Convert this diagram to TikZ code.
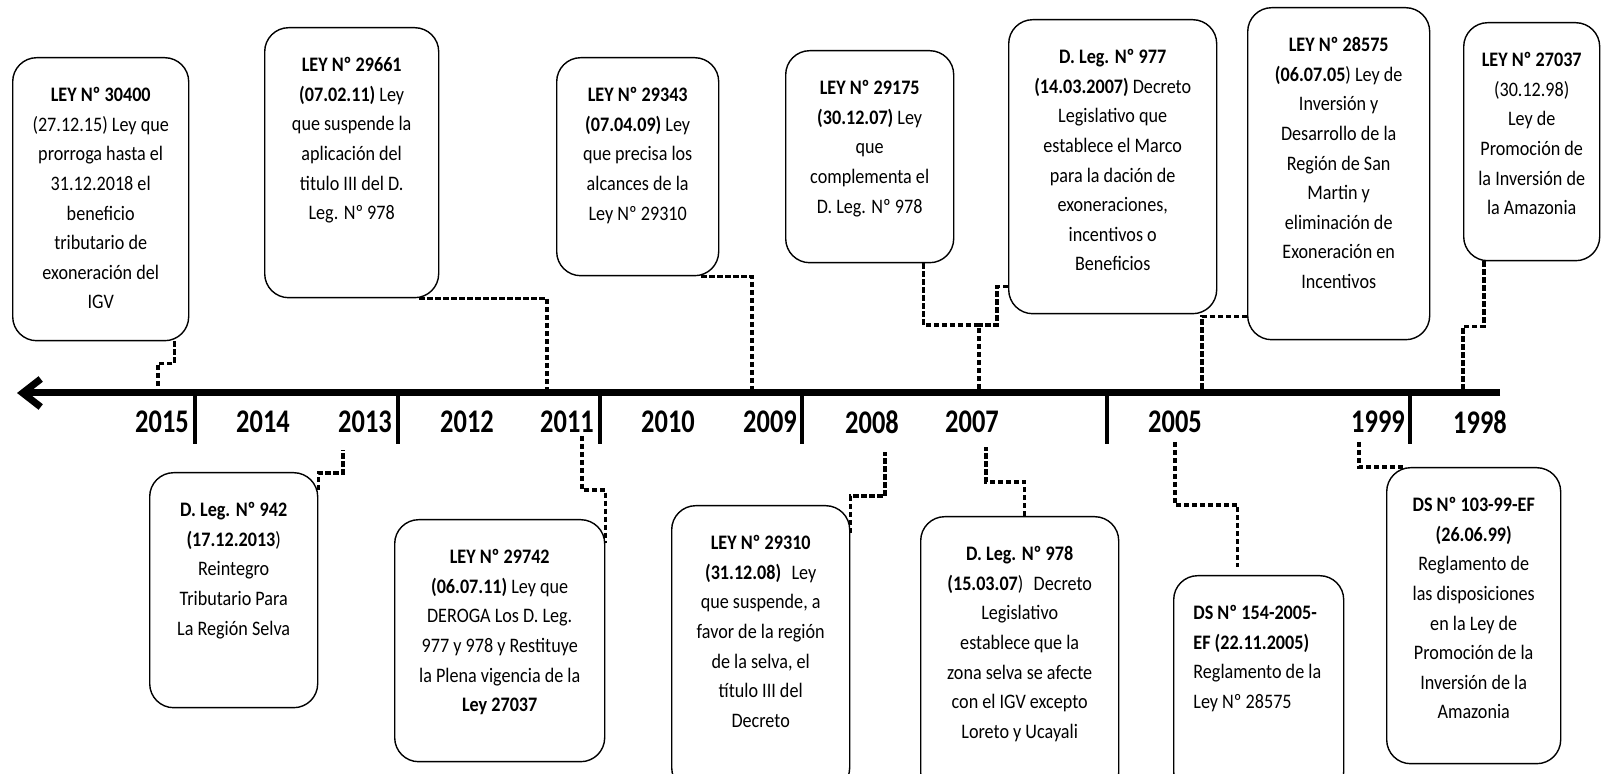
\documentclass[tikz,border=0pt]{standalone}
\usepackage{fontspec}
\setmainfont{Carlito}[FakeStretch=0.88]
\newfontfamily\yearfont{Carlito}[FakeStretch=0.8]
\usetikzlibrary{arrows.meta}

\begin{document}
\begin{tikzpicture}[x=0.5pt,y=-0.5pt,
  lawbox/.style={draw=black,line width=0.7pt,rounded corners=12pt,anchor=north west,inner sep=0pt},
  lawtext/.style={anchor=north,align=center,inner sep=0pt,font=\fontsize{10.3}{14.8}\selectfont},
  yearlbl/.style={inner sep=0pt,font=\yearfont\bfseries\fontsize{16.5}{18}\selectfont},
  conn/.style={black,line width=1.6pt,dash pattern=on 2.6pt off 1.4pt},
  tick/.style={black,line width=2pt}]
\useasboundingbox (0,0) rectangle (1603,774);
% upper boxes
\node[lawbox,minimum width=88pt,minimum height=141.5pt] (b1) at (12,57) {};
\node[lawtext] (b1t) at ([yshift=-15pt]b1.north) {\textbf{LEY Nº 30400}\\(27.12.15) Ley que\\prorroga hasta el\\31.12.2018 el\\beneficio\\tributario de\\exoneración del\\IGV};
\node[lawbox,minimum width=87pt,minimum height=135pt] (b2) at (264,27) {};
\node[lawtext] (b2t) at ([yshift=-15pt]b2.north) {\textbf{LEY Nº 29661}\\\textbf{(07.02.11)} Ley\\que suspende la\\aplicación del\\titulo III del D.\\Leg. Nº 978};
\node[lawbox,minimum width=81pt,minimum height=109pt] (b3) at (556,57) {};
\node[lawtext] (b3t) at ([yshift=-15pt]b3.north) {\textbf{LEY Nº 29343}\\\textbf{(07.04.09)} Ley\\que precisa los\\alcances de la\\Ley Nº 29310};
\node[lawbox,minimum width=84pt,minimum height=106pt] (b4) at (785,50) {};
\node[lawtext] (b4t) at ([yshift=-15pt]b4.north) {\textbf{LEY Nº 29175}\\\textbf{(30.12.07)} Ley\\que\\complementa el\\D. Leg. Nº 978};
\node[lawbox,minimum width=104pt,minimum height=147pt] (b5) at (1008,19) {};
\node[lawtext] (b5t) at ([yshift=-15pt]b5.north) {\textbf{D. Leg. Nº 977}\\\textbf{(14.03.2007)} Decreto\\Legislativo que\\establece el Marco\\para la dación de\\exoneraciones,\\incentivos o\\Beneficios};
\node[lawbox,minimum width=91pt,minimum height=166pt] (b6) at (1247,7) {};
\node[lawtext] (b6t) at ([yshift=-15pt]b6.north) {\textbf{LEY Nº 28575}\\\textbf{(06.07.05}) Ley de\\Inversión y\\Desarrollo de la\\Región de San\\Martin y\\eliminación de\\Exoneración en\\Incentivos};
\node[lawbox,minimum width=68pt,minimum height=119pt] (b7) at (1463,22) {};
\node[lawtext] (b7t) at ([yshift=-15pt]b7.north) {\textbf{LEY Nº 27037}\\(30.12.98)\\Ley de\\Promoción de\\la Inversión de\\la Amazonia};
% lower boxes
\node[lawbox,minimum width=84pt,minimum height=117.5pt] (c1) at (149,472) {};
\node[lawtext] (c1t) at ([yshift=-15pt]c1.north) {\textbf{D. Leg. Nº 942}\\\textbf{(17.12.2013})\\Reintegro\\Tributario Para\\La Región Selva};
\node[lawbox,minimum width=105pt,minimum height=121pt] (c2) at (394,519) {};
\node[lawtext] (c2t) at ([yshift=-15pt]c2.north) {\textbf{LEY Nº 29742}\\\textbf{(06.07.11)} Ley que\\DEROGA Los D. Leg.\\977 y 978 y Restituye\\la Plena vigencia de la\\\textbf{Ley 27037}};
\node[lawbox,minimum width=89pt,minimum height=143pt] (c3) at (671,505) {};
\node[lawtext] (c3t) at ([yshift=-15pt]c3.north) {\textbf{LEY Nº 29310}\\\textbf{(31.12.08)}\enspace Ley\\que suspende, a\\favor de la región\\de la selva, el\\título III del\\Decreto};
\node[lawbox,minimum width=99pt,minimum height=140pt] (c4) at (920,516) {};
\node[lawtext] (c4t) at ([yshift=-15pt]c4.north) {\textbf{D. Leg. Nº 978}\\\textbf{(15.03.07})\enspace Decreto\\Legislativo\\establece que la\\zona selva se afecte\\con el IGV excepto\\Loreto y Ucayali};
\node[lawbox,minimum width=85pt,minimum height=110pt] (c5) at (1173,575) {};
\node[lawtext,anchor=north west,align=left] (c5t) at ([xshift=10pt,yshift=-15pt]c5.north west) {\textbf{DS Nº 154-2005-}\\\textbf{EF (22.11.2005)}\\Reglamento de la\\Ley Nº 28575};
\node[lawbox,minimum width=87pt,minimum height=148pt] (c6) at (1386,467) {};
\node[lawtext] (c6t) at ([yshift=-15pt]c6.north) {\textbf{DS Nº 103-99-EF}\\\textbf{(26.06.99)}\\Reglamento de\\las disposiciones\\en la Ley de\\Promoción de la\\Inversión de la\\Amazonia};
% points on and under the axis
\coordinate (a1) at (158,393);
\coordinate (a2) at (547,393);
\coordinate (a3) at (752,393);
\coordinate (a4) at (979,393);
\coordinate (j4) at (979,325);
\coordinate (a6) at (1202,393);
\coordinate (a7) at (1463,393);
\coordinate (t1) at (343,450);
\coordinate (t2) at (582,436);
\coordinate (t3) at (885,452);
\coordinate (t4) at (986,447);
\coordinate (t5) at (1175,442);
\coordinate (t6) at (1359,442);
% dotted links
\draw[conn] ([xshift=-7.5pt]b1.south east) -- ++(0,22) -| (a1);
\draw[conn] ([xshift=-10pt]b2.south east) -| (a2);
\draw[conn] ([xshift=-9pt]b3.south east) -| (a3);
\draw[conn] ([xshift=-15.5pt]b4.south east) |- (j4) -- (a4);
\draw[conn] ([yshift=14pt]b5.south west) -- ++(-11,0) |- (j4);
\draw[conn] ([yshift=12pt]b6.south west) -| (a6);
\draw[conn] ([xshift=10.5pt]b7.south west) -- ++(0,65) -| (a7);
\draw[conn] ([yshift=-9pt]c1.north east) -- ++(0,-17) -| (t1);
\draw[conn] (t2) -- ++(0,54) -| ([yshift=-12pt]c2.north east);
\draw[conn] ([yshift=-14pt]c3.north east) -- ++(0,-37) -| (t3);
\draw[conn] ([xshift=2.5pt]c4.north) -- ++(0,-34) -| (t4);
\draw[conn] (t5) -- ++(0,63) -| ([xshift=-10.5pt,yshift=4pt]c5.north);
\draw[conn] (t6) |- ([xshift=9.5pt]c6.north west);
% time axis
\draw[black,line width=3.5pt,-{Straight Barb[length=9pt,width=14pt]}] (1500,393) -- (17,393);
\foreach \x in {195,398,600,802,1107,1410}
  \draw[tick] (\x,393) -- (\x,444);
\node[yearlbl] (y15) at (162,422) {2015};
\node[yearlbl] (y14) at (263,422) {2014};
\node[yearlbl] (y13) at (365,422) {2013};
\node[yearlbl] (y12) at (467,422) {2012};
\node[yearlbl] (y11) at (567,422) {2011};
\node[yearlbl] (y10) at (668,422) {2010};
\node[yearlbl] (y09) at (770,422) {2009};
\node[yearlbl] (y08) at (872,422) {2008};
\node[yearlbl] (y07) at (972,422) {2007};
\node[yearlbl] (y05) at (1175,422) {2005};
\node[yearlbl] (y99) at (1378,422) {1999};
\node[yearlbl] (y98) at (1480,422) {1998};
\end{tikzpicture}
\end{document}
